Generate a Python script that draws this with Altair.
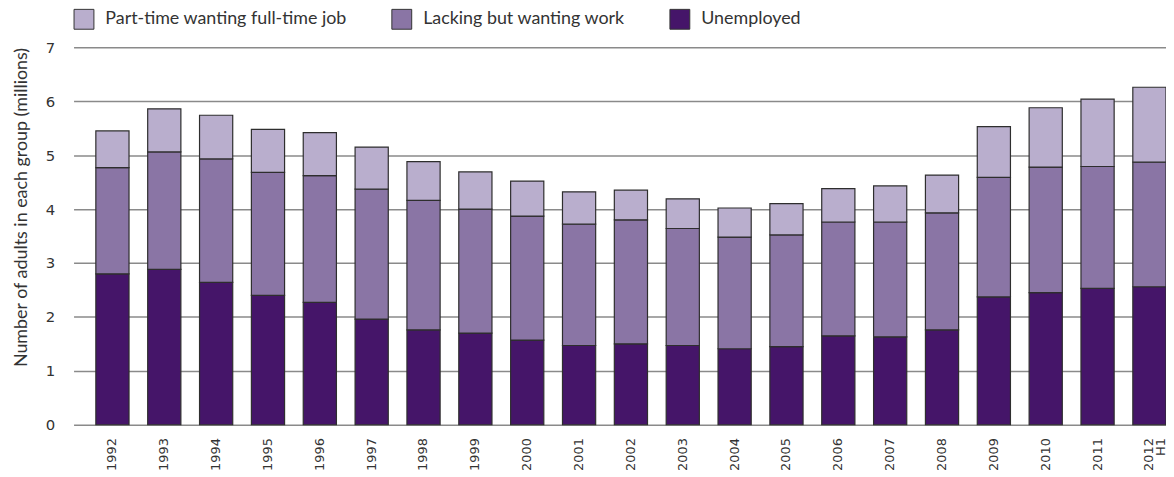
import altair as alt
import pandas as pd

years = ["1992", "1993", "1994", "1995", "1996", "1997", "1998", "1999", "2000",
         "2001", "2002", "2003", "2004", "2005", "2006", "2007", "2008", "2009",
         "2010", "2011", "2012 H1"]

# cumulative tops
unemployed = [2.80, 2.88, 2.64, 2.40, 2.27, 1.96, 1.76, 1.70, 1.57, 1.47, 1.50,
              1.47, 1.41, 1.45, 1.65, 1.63, 1.76, 2.37, 2.45, 2.53, 2.56]
lacking_top = [4.77, 5.06, 4.93, 4.68, 4.62, 4.37, 4.16, 4.00, 3.87, 3.72, 3.80,
               3.64, 3.48, 3.52, 3.76, 3.76, 3.93, 4.59, 4.78, 4.79, 4.87]
total_top = [5.45, 5.86, 5.74, 5.48, 5.42, 5.15, 4.88, 4.69, 4.52, 4.32, 4.35,
             4.19, 4.02, 4.10, 4.38, 4.43, 4.63, 5.53, 5.88, 6.04, 6.26]

series = ["Part-time wanting full-time job", "Lacking but wanting work", "Unemployed"]
colors = ["#b9aecd", "#8a75a5", "#451569"]

rows = []
for i, y in enumerate(years):
    rows.append({"year": y, "group": "Unemployed", "value": unemployed[i], "ord": 0})
    rows.append({"year": y, "group": "Lacking but wanting work",
                 "value": round(lacking_top[i] - unemployed[i], 3), "ord": 1})
    rows.append({"year": y, "group": "Part-time wanting full-time job",
                 "value": round(total_top[i] - lacking_top[i], 3), "ord": 2})
df = pd.DataFrame(rows)

label_font = "DejaVu Sans"
text_font = "Lato"

chart = alt.Chart(df).mark_bar(stroke="#2e2e2e", strokeWidth=1.2).encode(
    x=alt.X("year:N", sort=years, title=None,
            scale=alt.Scale(paddingInner=0.36, paddingOuter=0.215, align=1),
            axis=alt.Axis(labelAngle=270, labelFont=label_font, labelFontSize=13,
                          labelColor="#333333", labelPadding=13, ticks=False,
                          domain=False, labelLineHeight=12, labelLimit=0,
                          labelExpr="datum.value == '2012 H1' ? ['2012', 'H1'] : datum.value")),
    y=alt.Y("value:Q", stack="zero", title="Number of adults in each group (millions)",
            scale=alt.Scale(domain=[0, 7], nice=False),
            axis=alt.Axis(values=[0, 1, 2, 3, 4, 5, 6, 7], grid=True, gridColor="#8a8a8a",
                          gridWidth=1.5, domain=False, ticks=False, labelPadding=19,
                          labelFont=label_font, labelFontSize=15, labelColor="#333333",
                          titleFont=text_font, titleFontSize=18, titleFontWeight="normal",
                          titleColor="#333333", titlePadding=15, titleAnchor="end")),
    color=alt.Color("group:N", scale=alt.Scale(domain=series, range=colors),
                    legend=alt.Legend(title=None, orient="none", legendX=0, legendY=-39,
                                      direction="horizontal", symbolType="square",
                                      symbolSize=400, symbolStrokeColor="#333333",
                                      symbolStrokeWidth=1, labelFont=text_font,
                                      labelFontSize=18, labelColor="#333333",
                                      labelLimit=0, labelOffset=11, columnPadding=42)),
    order=alt.Order("ord:Q", sort="ascending"),
).properties(
    width=1100, height=380,
    autosize=alt.AutoSizeParams(type="none"),
    padding={"left": 66, "top": 38, "right": 0, "bottom": 51},
).configure_view(stroke=None)

chart.save("out.html", embed_options={"renderer": "svg", "actions": False})
